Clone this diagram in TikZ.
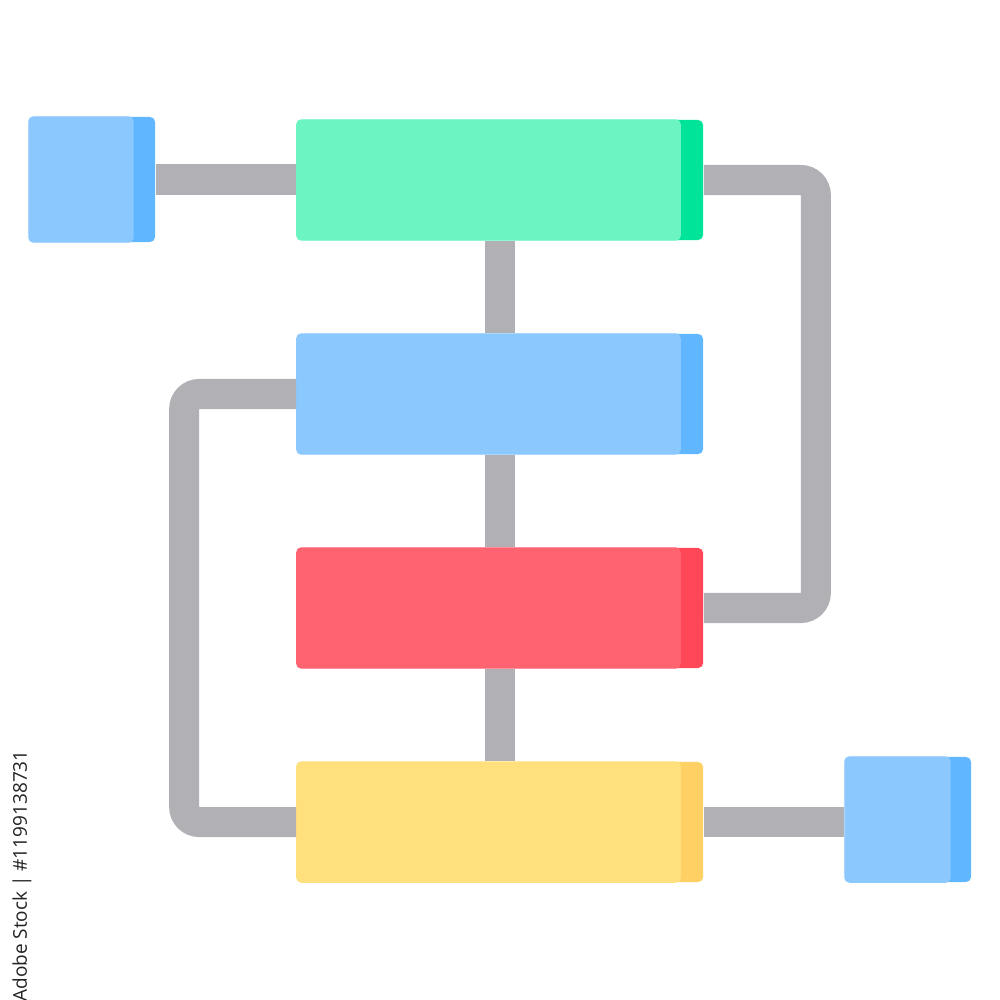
\documentclass[tikz,border=0pt]{standalone}
\usepackage{fontspec}
\setsansfont{Open Sans}
\definecolor{conngray}{HTML}{B1B0B5}
\definecolor{greenL}{HTML}{6CF5C3}
\definecolor{greenD}{HTML}{00E499}
\definecolor{blueL}{HTML}{8AC8FE}
\definecolor{blueD}{HTML}{60B7FF}
\definecolor{redL}{HTML}{FF6371}
\definecolor{redD}{HTML}{FF4757}
\definecolor{yellowL}{HTML}{FFE07D}
\definecolor{yellowD}{HTML}{FFD064}
\definecolor{idgray}{HTML}{222222}
\tikzset{
  px/.style={x=0.01cm,y=-0.01cm},
  bigbox/.style={rectangle, inner sep=0pt, minimum width=4.06cm, minimum height=1.2cm, rounded corners=0.05cm},
  smallbox/.style={rectangle, inner sep=0pt, minimum width=1.26cm, minimum height=1.25cm, rounded corners=0.05cm},
  conn/.style={draw=conngray, line width=0.3cm, rounded corners=0.15cm},
}
\begin{document}
\begin{tikzpicture}[px]
\useasboundingbox (0,0) rectangle (1000,1000);
% nodes (dark colour as base)
\node[smallbox, fill=blueD] (sqA) at (92,179.5) {};
\node[bigbox, fill=greenD] (g) at (500,180) {};
\node[bigbox, fill=blueD] (b) at (500,394) {};
\node[bigbox, fill=redD] (r) at (500,608) {};
\node[bigbox, fill=yellowD] (y) at (500,822) {};
\node[smallbox, fill=blueD] (sqB) at (908,819.5) {};
% light faces
\fill[blueL, rounded corners=0.05cm] (sqA.south west) rectangle ([xshift=-0.22cm]sqA.north east);
\fill[greenL, rounded corners=0.05cm] (g.south west) rectangle ([xshift=-0.23cm]g.north east);
\fill[blueL, rounded corners=0.05cm] (b.south west) rectangle ([xshift=-0.23cm]b.north east);
\fill[redL, rounded corners=0.05cm] (r.south west) rectangle ([xshift=-0.23cm]r.north east);
\fill[yellowL, rounded corners=0.05cm] (y.south west) rectangle ([xshift=-0.23cm]y.north east);
\fill[blueL, rounded corners=0.05cm] (sqB.south west) rectangle ([xshift=-0.21cm]sqB.north east);
% connectors
\draw[conn] (sqA.east) -- (sqA.east -| g.west);
\draw[conn] (g.south) -- (b.north);
\draw[conn] (b.south) -- (r.north);
\draw[conn] (r.south) -- (y.north);
\draw[conn] (g.east) -- ++(112,0) |- (r.east);
\draw[conn] (b.west) -- ++(-112,0) |- (y.west);
\draw[conn] (y.east) -- (y.east -| sqB.west);
% stock id
\node[rotate=90, text=idgray, font=\sffamily\fontsize{5.4pt}{6pt}\selectfont, inner sep=0pt] (sid) at (22,876) {Adobe Stock | \#1199138731};
\end{tikzpicture}
\end{document}
